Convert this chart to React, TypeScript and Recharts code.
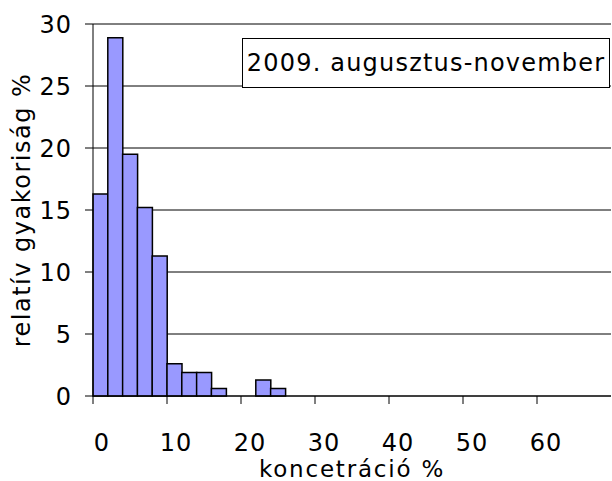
import React from 'react';
import {
  ComposedChart,
  Bar,
  XAxis,
  YAxis,
  CartesianGrid,
  Label,
} from 'recharts';

// bin centres (bins of 2 %), relative frequency in %
const binCenters = [1, 3, 5, 7, 9, 11, 13, 15, 17, 19, 21, 23, 25];
const frequencies = [16.3, 28.9, 19.5, 15.2, 11.3, 2.6, 1.9, 1.9, 0.6, 0, 0, 1.3, 0.6];
const xTicks = [0, 10, 20, 30, 40, 50, 60];
const yTicks = [0, 5, 10, 15, 20, 25, 30];
const legendText = '2009. augusztus-november';

const data = binCenters.map((x, i) => ({ x, freq: frequencies[i] }));

const font = 'Verdana, "DejaVu Sans", sans-serif';

export default function App() {
  return (
    <div style={{ position: 'absolute', left: 0, top: 0, width: 612, height: 481, fontFamily: font, background: '#fff' }}>
      <ComposedChart
        width={612}
        height={481}
        data={data}
        margin={{ top: 24, right: 1, bottom: 0, left: 0 }}
        barCategoryGap={0}
        barGap={0}
      >
        <CartesianGrid horizontal vertical={false} stroke="#000" strokeWidth={1} />
        <XAxis
          dataKey="x"
          type="number"
          domain={[0, 70]}
          ticks={xTicks}
          height={85}
          tickSize={8}
          tickMargin={30}
          stroke="#000"
          tick={{ fill: '#000', fontSize: 24, fontFamily: font, dx: 9, letterSpacing: 1 }}
        >
          <Label
            value="koncetráció %"
            position="insideBottom"
            offset={4}
            style={{ fill: '#000', fontSize: 23, fontFamily: font, letterSpacing: 1.8 }}
          />
        </XAxis>
        <YAxis
          type="number"
          domain={[0, 30]}
          ticks={yTicks}
          width={93}
          tickSize={8}
          tickMargin={13}
          stroke="#000"
          tick={{ fill: '#000', fontSize: 24, fontFamily: font, letterSpacing: 1 }}
        >
          <Label
            value="relatív gyakoriság %"
            angle={-90}
            position="insideLeft"
            offset={21}
            style={{ textAnchor: 'middle', fill: '#000', fontSize: 24, fontFamily: font, letterSpacing: 1.5 }}
          />
        </YAxis>
        <Bar
          dataKey="freq"
          fill="#9999ff"
          stroke="#000"
          strokeWidth={1.5}
          isAnimationActive={false}
        />
      </ComposedChart>
      <div
        style={{
          position: 'absolute',
          left: 242,
          top: 38,
          width: 366,
          height: 48,
          border: '1px solid #000',
          background: '#fff',
          fontSize: 24,
          letterSpacing: 1.2,
          lineHeight: '48px',
          textAlign: 'center',
          color: '#000',
          whiteSpace: 'nowrap',
        }}
      >
        {legendText}
      </div>
    </div>
  );
}
